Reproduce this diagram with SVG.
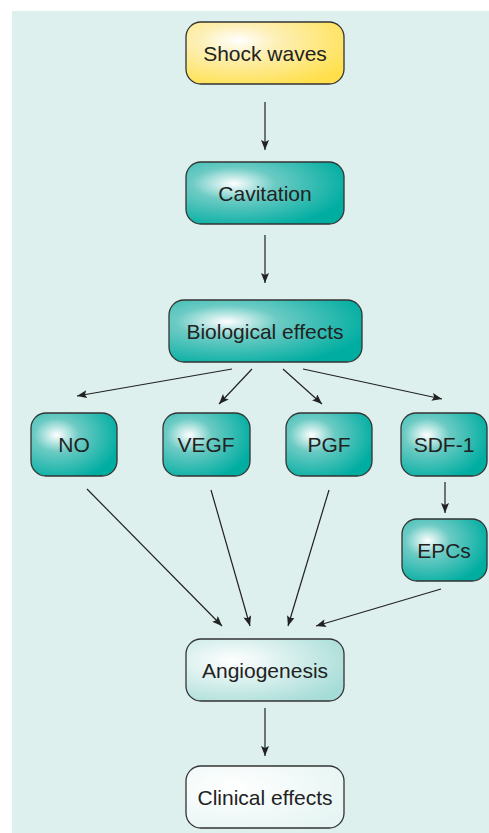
<svg xmlns="http://www.w3.org/2000/svg" width="489" height="833" viewBox="0 0 489 833">
<defs>
<radialGradient id="gy" cx="0.33" cy="0.3" r="0.8">
<stop offset="0" stop-color="#ffffff"/><stop offset="0.3" stop-color="#fdf0b8"/><stop offset="1" stop-color="#ffe04c"/>
</radialGradient>
<radialGradient id="gt" cx="0.3" cy="0.35" r="0.75">
<stop offset="0" stop-color="#ffffff"/><stop offset="0.35" stop-color="#6ccbc4"/><stop offset="1" stop-color="#00ada1"/>
</radialGradient>
<radialGradient id="gl" cx="0.3" cy="0.35" r="0.8">
<stop offset="0" stop-color="#ffffff"/><stop offset="1" stop-color="#a6dcd7"/>
</radialGradient>
<radialGradient id="gw" cx="0.3" cy="0.35" r="0.8">
<stop offset="0" stop-color="#ffffff"/><stop offset="1" stop-color="#e6f5f3"/>
</radialGradient>
<marker id="ah" viewBox="0 0 10 8" refX="10" refY="4" markerWidth="10" markerHeight="8" markerUnits="userSpaceOnUse" orient="auto">
<path d="M0,0 L10,4 L0,8 L2,4 Z" fill="#222"/>
</marker>
</defs>
<style>
.n{stroke:#333;stroke-width:1.3}
.t{font-family:"Liberation Sans",Arial,sans-serif;font-size:21px;fill:#222;text-anchor:middle;dominant-baseline:central}
.c{stroke:#222;stroke-width:1.2;fill:none;marker-end:url(#ah)}
</style>
<rect x="12" y="11" width="477" height="822" fill="#ddf0ee"/>
<g id="connectors">
<line class="c" x1="265" y1="102" x2="265" y2="150"/>
<line class="c" x1="265" y1="235" x2="265" y2="283"/>
<line class="c" x1="232" y1="369" x2="77" y2="396"/>
<line class="c" x1="252" y1="369" x2="219" y2="404"/>
<line class="c" x1="283" y1="369" x2="322" y2="404"/>
<line class="c" x1="303" y1="369" x2="442" y2="399"/>
<line class="c" x1="445" y1="482" x2="445" y2="513"/>
<line class="c" x1="87" y1="489" x2="222" y2="626"/>
<line class="c" x1="211" y1="490" x2="250" y2="626"/>
<line class="c" x1="329" y1="490" x2="288" y2="626"/>
<line class="c" x1="441" y1="589" x2="316" y2="626"/>
<line class="c" x1="265" y1="708" x2="265" y2="756"/>
</g>
<g id="shock"><rect class="n" x="186" y="22" width="158" height="62" rx="15" fill="url(#gy)"/><text class="t" x="265" y="53">Shock waves</text></g>
<g id="cavitation"><rect class="n" x="186" y="162" width="158" height="62" rx="15" fill="url(#gt)"/><text class="t" x="265" y="193">Cavitation</text></g>
<g id="bio"><rect class="n" x="169" y="300" width="193" height="62" rx="15" fill="url(#gt)"/><text class="t" x="265" y="331">Biological effects</text></g>
<g id="no"><rect class="n" x="31" y="413" width="86" height="63" rx="15" fill="url(#gt)"/><text class="t" x="74" y="444">NO</text></g>
<g id="vegf"><rect class="n" x="163" y="413" width="87" height="63" rx="15" fill="url(#gt)"/><text class="t" x="206" y="444">VEGF</text></g>
<g id="pgf"><rect class="n" x="286" y="413" width="86" height="63" rx="15" fill="url(#gt)"/><text class="t" x="329" y="444">PGF</text></g>
<g id="sdf1"><rect class="n" x="401" y="413" width="86" height="63" rx="15" fill="url(#gt)"/><text class="t" x="444" y="444">SDF-1</text></g>
<g id="epcs"><rect class="n" x="402" y="519" width="85" height="62" rx="15" fill="url(#gt)"/><text class="t" x="444" y="550">EPCs</text></g>
<g id="angio"><rect class="n" x="186" y="639" width="158" height="62" rx="15" fill="url(#gl)"/><text class="t" x="265" y="670">Angiogenesis</text></g>
<g id="clinical"><rect class="n" x="186" y="766" width="158" height="62" rx="15" fill="url(#gw)"/><text class="t" x="265" y="797">Clinical effects</text></g>
</svg>
